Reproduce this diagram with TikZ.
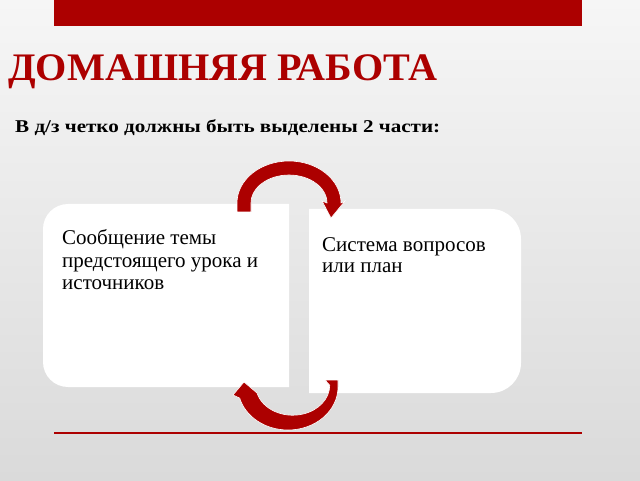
\documentclass[tikz,border=0pt]{standalone}
\usepackage{fontspec}
\setmainfont{Liberation Serif}
\usepackage{graphicx}
\definecolor{slidered}{RGB}{172,0,0}
\definecolor{bgtop}{RGB}{246,246,246}
\definecolor{bgbot}{RGB}{218,218,218}
\begin{document}
\begin{tikzpicture}[x=1pt,y=1pt,
  boxfill/.style={fill=white},
  arrowshape/.style={fill=slidered,draw=white,line width=0.6pt,line join=miter},
  boxtext/.style={anchor=base west,inner sep=0pt,font=\fontsize{21}{22}\selectfont,text=black}]
\useasboundingbox (0,0) rectangle (640,480);
\shade[top color=bgtop,bottom color=bgbot] (0,0) rectangle (640,480);
% top bar and bottom rule
\fill[slidered] (54,454) rectangle (582,480);
\draw[slidered,line width=2pt] (54,47.3) -- (582,47.3);
% title and subtitle
\node[anchor=base west,inner sep=0pt,text=slidered] (title) at (8,399)
  {\resizebox{429pt}{\height}{\fontsize{39}{39}\selectfont\bfseries ДОМАШНЯЯ РАБОТА}};
\node[anchor=base west,inner sep=0pt,text=black] (subtitle) at (15,347.5)
  {\resizebox{425pt}{\height}{\fontsize{18}{18}\selectfont\bfseries В д/з четко должны быть выделены 2 части:}};
% boxes
\fill[boxfill] (289,276) -- (68,276) arc[start angle=90,end angle=180,radius=25]
  -- (43,118) arc[start angle=180,end angle=270,radius=25] -- (289,93) -- cycle;
\fill[boxfill] (309,271) -- (491,271) arc[start angle=90,end angle=0,radius=30]
  -- (521,117) arc[start angle=0,end angle=-90,radius=30] -- (309,87) -- cycle;
% box texts
\node[boxtext] (l1) at (62,235) {Сообщение темы};
\node[boxtext] (l2) at (62,212.3) {предстоящего урока и};
\node[boxtext] (l3) at (62,190) {источников};
\node[boxtext] (r1) at (322,229) {Система вопросов};
\node[boxtext] (r2) at (322,207.3) {или план};
% top circular arrow
\path[arrowshape] (237,268) -- (237,277)
  arc[start angle=180,end angle=0,x radius=52,y radius=42]
  -- (345,279) -- (331,262) -- (322,279) -- (327,277)
  arc[start angle=0,end angle=180,x radius=38,y radius=28]
  -- (251,268) -- cycle;
% bottom circular arrow
\path[arrowshape] (338,100) -- (338,93)
  arc[start angle=0,end angle=-165,x radius=50,y radius=43]
  -- (233,85) -- (244,98) -- (257,87)
  arc[start angle=-165,end angle=0,x radius=37,y radius=30]
  -- (325,100) -- cycle;
\end{tikzpicture}
\end{document}
